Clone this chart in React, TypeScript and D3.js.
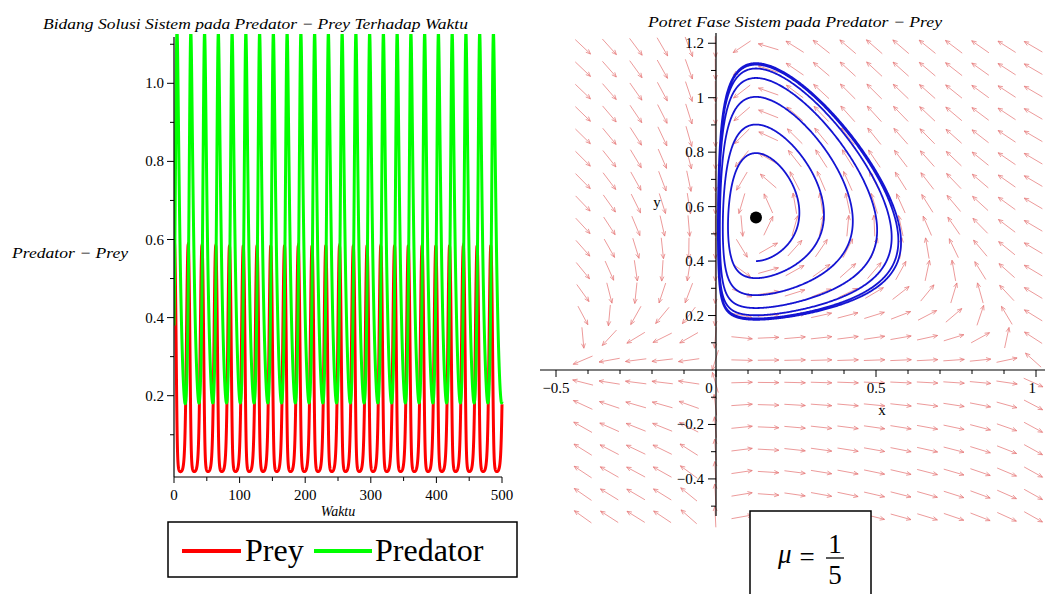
import React from "react";
import * as d3 from "d3";

// Rosenzweig–MacArthur predator–prey model (prey x, predator y)
const equilibrium = [0.125, 0.56];
const halfSaturation = 0.49;
const predatorDeath = 0.19;
const timeScale = 1.033;

// initial states: time series and phase trajectory
const seriesStart = [0.58, 0.38];
const orbitStart = [0.125, 0.4];
const seriesSpan = 500;
const orbitSpan = 130;

const timeTicks = [0, 100, 200, 300, 400, 500];
const popTicks = [0.2, 0.4, 0.6, 0.8, 1.0];
const phaseXTicks = [-0.5, 0, 0.5, 1];
const phaseYTicks = [-0.4, -0.2, 0.2, 0.4, 0.6, 0.8, 1, 1.2];

type P = { r: number; a: number; b: number; h: number; m: number };
const XS = equilibrium[0];
const YS = equilibrium[1];

function makeParams(h: number, m: number, s: number): P {
  return { r: s, h, m: m * s, b: (s * m * (h + XS)) / XS, a: (s * (1 - XS) * (h + XS)) / YS };
}

function deriv(p: P, x: number, y: number): [number, number] {
  const f = x / (p.h + x);
  return [p.r * x * (1 - x) - p.a * y * f, y * (p.b * f - p.m)];
}

// classical RK4 solution of the system
function integrate(p: P, x0: number, y0: number, dt: number, T: number) {
  const out: [number, number, number][] = [[0, x0, y0]];
  let x = x0, y = y0;
  const n = Math.round(T / dt);
  for (let i = 1; i <= n; i++) {
    const k1 = deriv(p, x, y);
    const k2 = deriv(p, x + (dt / 2) * k1[0], y + (dt / 2) * k1[1]);
    const k3 = deriv(p, x + (dt / 2) * k2[0], y + (dt / 2) * k2[1]);
    const k4 = deriv(p, x + dt * k3[0], y + dt * k3[1]);
    x += (dt / 6) * (k1[0] + 2 * k2[0] + 2 * k3[0] + k4[0]);
    y += (dt / 6) * (k1[1] + 2 * k2[1] + 2 * k3[1] + k4[1]);
    out.push([i * dt, x, y]);
  }
  return out;
}

const serif = "'Liberation Serif', 'Times New Roman', serif";
const fmt = (v: number) => (v < 0 ? "−" + Math.abs(v) : String(v));

export default function App() {
  const p = makeParams(halfSaturation, predatorDeath, timeScale);

  // time series
  const series = integrate(p, seriesStart[0], seriesStart[1], 0.02, seriesSpan).filter((_, i) => i % 5 === 0);
  const tx = d3.scaleLinear().domain([0, 500]).range([174, 502]);
  const ty = d3.scaleLinear().domain([0, 1]).range([473.8, 83.3]);
  const preyLine = d3.line<[number, number, number]>().x((d) => tx(d[0])).y((d) => ty(d[1]))(series)!;
  const predLine = d3.line<[number, number, number]>().x((d) => tx(d[0])).y((d) => ty(d[2]))(series)!;

  // phase portrait
  const px = d3.scaleLinear().domain([0, 1]).range([716, 1036]);
  const py = d3.scaleLinear().domain([0, 1]).range([370, 97.7]);
  const orbit = integrate(p, orbitStart[0], orbitStart[1], 0.02, orbitSpan);
  const orbitLine = d3.line<[number, number, number]>().x((d) => px(d[1])).y((d) => py(d[2]))(orbit)!;

  // direction field on a regular grid, arrows of equal length
  const arrows: { x: number; y: number; ux: number; uy: number }[] = [];
  for (let i = 0; i < 19; i++) for (let j = 0; j < 22; j++) {
    const x = -0.416 + 0.0828 * i;
    const y = 1.187 - 0.0822 * j;
    const [dx, dy] = deriv(p, x, y);
    const vx = dx * 320, vy = -dy * 272;
    const len = Math.hypot(vx, vy) || 1;
    arrows.push({ x: px(x), y: py(y), ux: vx / len, uy: vy / len });
  }
  const L = 21;

  return (
    <svg width={1045} height={594} style={{ position: "absolute", left: 0, top: 0, display: "block", background: "#fff" }}>
      <defs>
        <clipPath id="tsClip"><rect x={174} y={34} width={330} height={444} /></clipPath>
      </defs>
      {/* left: time series */}
      <text x={43} y={29} fontFamily={serif} fontStyle="italic" fontSize={15} textLength={425} lengthAdjust="spacingAndGlyphs">Bidang Solusi Sistem pada Predator − Prey Terhadap Waktu</text>
      <text x={12} y={258} fontFamily={serif} fontStyle="italic" fontSize={15} textLength={116} lengthAdjust="spacingAndGlyphs">Predator − Prey</text>
      <g clipPath="url(#tsClip)">
        <path d={preyLine} fill="none" stroke="#ff0000" strokeWidth={3} />
        <path d={predLine} fill="none" stroke="#00ff00" strokeWidth={3} />
      </g>
      <line x1={174} x2={174} y1={37} y2={477} stroke="#000" strokeWidth={1.2} />
      <line x1={174} x2={502} y1={477} y2={477} stroke="#000" strokeWidth={1.2} />
      {d3.range(1, 12).map((k) => (
        <line key={k} x1={k % 2 === 0 ? 167 : 170} x2={174} y1={ty(k / 10)} y2={ty(k / 10)} stroke="#000" />
      ))}
      {popTicks.map((v) => (
        <text key={v} x={164} y={ty(v) + 5} textAnchor="end" fontFamily={serif} fontSize={15}>{v.toFixed(1)}</text>
      ))}
      {d3.range(0, 501, 50).map((v) => (
        <line key={v} x1={tx(v)} x2={tx(v)} y1={477} y2={v % 100 === 0 ? 483 : 481} stroke="#000" />
      ))}
      {timeTicks.map((v) => (
        <text key={v} x={tx(v)} y={500} textAnchor="middle" fontFamily={serif} fontSize={15}>{v}</text>
      ))}
      <text x={338} y={516} textAnchor="middle" fontFamily={serif} fontStyle="italic" fontSize={14}>Waktu</text>

      {/* legend */}
      <rect x={168} y={522} width={349} height={55} fill="none" stroke="#000" strokeWidth={1.5} />
      <line x1={182} x2={241} y1={551} y2={551} stroke="#ff0000" strokeWidth={4} />
      <text x={245} y={561} fontFamily={serif} fontSize={32}>Prey</text>
      <line x1={314} x2={372} y1={551} y2={551} stroke="#00ff00" strokeWidth={4} />
      <text x={375} y={561} fontFamily={serif} fontSize={32}>Predator</text>

      {/* right: phase portrait */}
      <g stroke="#e67878" strokeOpacity={0.75} strokeWidth={1} fill="none">
        {arrows.map((a, k) => {
          const x1 = a.x - (a.ux * L) / 2, y1 = a.y - (a.uy * L) / 2;
          const x2 = a.x + (a.ux * L) / 2, y2 = a.y + (a.uy * L) / 2;
          const ang = Math.atan2(a.uy, a.ux);
          const hl = 5;
          const h1 = [x2 - hl * Math.cos(ang - 0.4), y2 - hl * Math.sin(ang - 0.4)];
          const h2 = [x2 - hl * Math.cos(ang + 0.4), y2 - hl * Math.sin(ang + 0.4)];
          return <path key={k} d={`M${x1},${y1}L${x2},${y2}M${h1[0]},${h1[1]}L${x2},${y2}L${h2[0]},${h2[1]}`} />;
        })}
      </g>
      <path d={orbitLine} fill="none" stroke="#1414d2" strokeWidth={1.8} />
      <circle cx={px(equilibrium[0])} cy={py(equilibrium[1])} r={6} fill="#000" />
      <line x1={540} x2={1045} y1={370} y2={370} stroke="#000" strokeWidth={1.2} />
      <line x1={716} x2={716} y1={33} y2={516} stroke="#000" strokeWidth={1.2} />
      {d3.range(-5, 11).map((k) => (
        <line key={k} x1={px(k / 10)} x2={px(k / 10)} y1={370} y2={k % 5 === 0 ? 377 : 374} stroke="#000" />
      ))}
      {d3.range(-5, 13).filter((k) => k !== 0).map((k) => (
        <line key={k} x1={k % 2 === 0 ? 708 : 711} x2={716} y1={py(k / 10)} y2={py(k / 10)} stroke="#000" />
      ))}
      {phaseXTicks.map((v) => (
        <text key={v} x={v === 0 ? 709 : v === 1 ? 1036 : px(v)} y={393} textAnchor={v === 1 ? "end" : "middle"} fontFamily={serif} fontSize={15}>{fmt(v)}</text>
      ))}
      {phaseYTicks.map((v) => (
        <text key={v} x={704} y={py(v) + 5} textAnchor="end" fontFamily={serif} fontSize={15}>{fmt(v)}</text>
      ))}
      <text x={648} y={27} fontFamily={serif} fontStyle="italic" fontSize={15} textLength={294} lengthAdjust="spacingAndGlyphs">Potret Fase Sistem pada Predator − Prey</text>
      <text x={882} y={415} textAnchor="middle" fontFamily={serif} fontSize={15}>x</text>
      <text x={657} y={207} textAnchor="middle" fontFamily={serif} fontSize={15}>y</text>

      {/* parameter box */}
      <rect x={750} y={511} width={121} height={100} fill="#fff" stroke="#000" strokeWidth={1.5} />
      <text x={778} y={563} fontFamily={serif} fontStyle="italic" fontSize={27}>μ</text>
      <text x={807} y={566} textAnchor="middle" fontFamily={serif} fontSize={27}>=</text>
      <text x={835} y={553} textAnchor="middle" fontFamily={serif} fontSize={27}>1</text>
      <line x1={826} x2={844} y1={558} y2={558} stroke="#000" strokeWidth={1.3} />
      <text x={835} y={584} textAnchor="middle" fontFamily={serif} fontSize={27}>5</text>
    </svg>
  );
}
